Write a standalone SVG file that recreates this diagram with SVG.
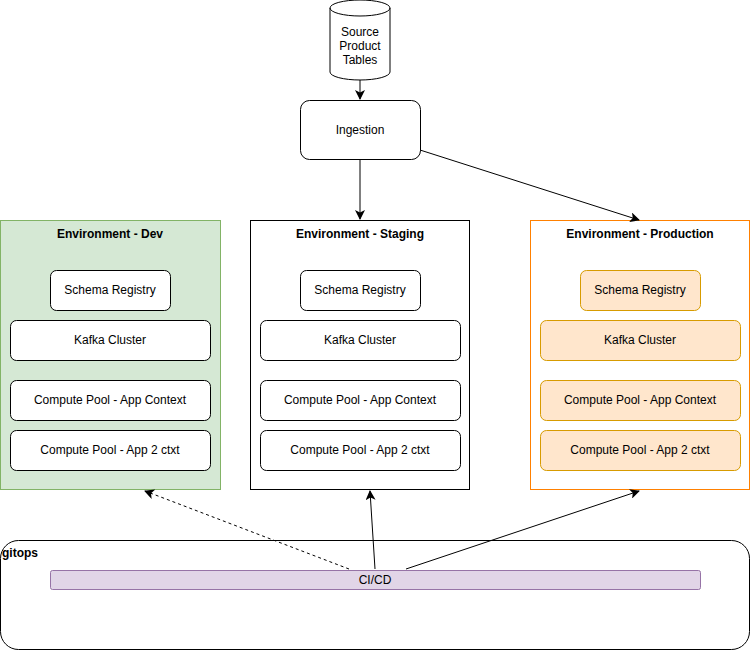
<svg xmlns="http://www.w3.org/2000/svg" width="751" height="651" viewBox="0 0 751 651">
<defs>
<marker id="arr" viewBox="0 0 10 10" refX="9" refY="5" markerWidth="10" markerHeight="10" markerUnits="userSpaceOnUse" orient="auto">
<path d="M0,0 L10,5 L0,10 L2.5,5 Z" fill="#000"/>
</marker>
<style>
text{font-family:"Liberation Sans",Arial,sans-serif;font-size:12px;fill:#000}
.t{text-anchor:middle;dominant-baseline:central}
.b{font-weight:bold}
.w{fill:#fff;stroke:#000;stroke-width:1}
.o{fill:#ffe6cc;stroke:#d79b00;stroke-width:1}
.c{fill:none;stroke:#000;stroke-width:1}
</style>
</defs>
<rect width="751" height="651" fill="#fff"/>

<g id="source">
<path d="M330,8 A30,8 0 0 1 390,8 L390,72 A30,8 0 0 1 330,72 Z" class="w"/>
<path d="M330,8 A30,8 0 0 0 390,8" class="c"/>
<text class="t" x="360" y="32">Source</text>
<text class="t" x="360" y="46">Product</text>
<text class="t" x="360" y="60">Tables</text>
</g>

<g id="ingestion">
<rect x="300.5" y="100.5" width="120" height="59" rx="9" class="w"/>
<text class="t" x="360" y="130">Ingestion</text>
</g>

<g id="env-dev">
<rect x="0.5" y="220.5" width="220" height="269" fill="#d5e8d4" stroke="#82b366"/>
<text class="t b" x="110" y="234">Environment - Dev</text>
<rect x="50.5" y="270.5" width="120" height="40" rx="6" class="w"/>
<text class="t" x="110" y="290">Schema Registry</text>
<rect x="10.5" y="320.5" width="200" height="40" rx="6" class="w"/>
<text class="t" x="110" y="340">Kafka Cluster</text>
<rect x="10.5" y="380.5" width="200" height="40" rx="6" class="w"/>
<text class="t" x="110" y="400">Compute Pool - App Context</text>
<rect x="10.5" y="430.5" width="200" height="40" rx="6" class="w"/>
<text class="t" x="110" y="450">Compute Pool - App 2 ctxt</text>
</g>

<g id="env-staging">
<rect x="250.5" y="220.5" width="219" height="269" class="w"/>
<text class="t b" x="360" y="234">Environment - Staging</text>
<rect x="300.5" y="270.5" width="120" height="40" rx="6" class="w"/>
<text class="t" x="360" y="290">Schema Registry</text>
<rect x="260.5" y="320.5" width="200" height="40" rx="6" class="w"/>
<text class="t" x="360" y="340">Kafka Cluster</text>
<rect x="260.5" y="380.5" width="200" height="40" rx="6" class="w"/>
<text class="t" x="360" y="400">Compute Pool - App Context</text>
<rect x="260.5" y="430.5" width="200" height="40" rx="6" class="w"/>
<text class="t" x="360" y="450">Compute Pool - App 2 ctxt</text>
</g>

<g id="env-production">
<rect x="530.5" y="220.5" width="219" height="269" fill="#fff" stroke="#ff8000"/>
<text class="t b" x="640" y="234">Environment - Production</text>
<rect x="580.5" y="270.5" width="120" height="40" rx="6" class="o"/>
<text class="t" x="640" y="290">Schema Registry</text>
<rect x="540.5" y="320.5" width="200" height="40" rx="6" class="o"/>
<text class="t" x="640" y="340">Kafka Cluster</text>
<rect x="540.5" y="380.5" width="200" height="40" rx="6" class="o"/>
<text class="t" x="640" y="400">Compute Pool - App Context</text>
<rect x="540.5" y="430.5" width="200" height="40" rx="6" class="o"/>
<text class="t" x="640" y="450">Compute Pool - App 2 ctxt</text>
</g>

<g id="gitops">
<rect x="0.5" y="540.5" width="749" height="109" rx="18" class="w"/>
<text class="b" x="2" y="557">gitops</text>
</g>

<g id="cicd">
<rect x="50.5" y="570.5" width="650" height="19" rx="2" fill="#e1d5e7" stroke="#9673a6"/>
<text class="t" x="375" y="580">CI/CD</text>
</g>

<g id="connectors">
<line x1="360" y1="80" x2="360" y2="99" class="c" marker-end="url(#arr)"/>
<line x1="360" y1="160" x2="360" y2="219" class="c" marker-end="url(#arr)"/>
<line x1="420" y1="150" x2="639" y2="220" class="c" marker-end="url(#arr)"/>
<line x1="349" y1="569" x2="145" y2="491" class="c" stroke-dasharray="3,3" marker-end="url(#arr)"/>
<line x1="375" y1="569" x2="370" y2="491" class="c" marker-end="url(#arr)"/>
<line x1="406" y1="569" x2="639" y2="491" class="c" marker-end="url(#arr)"/>
</g>
</svg>
